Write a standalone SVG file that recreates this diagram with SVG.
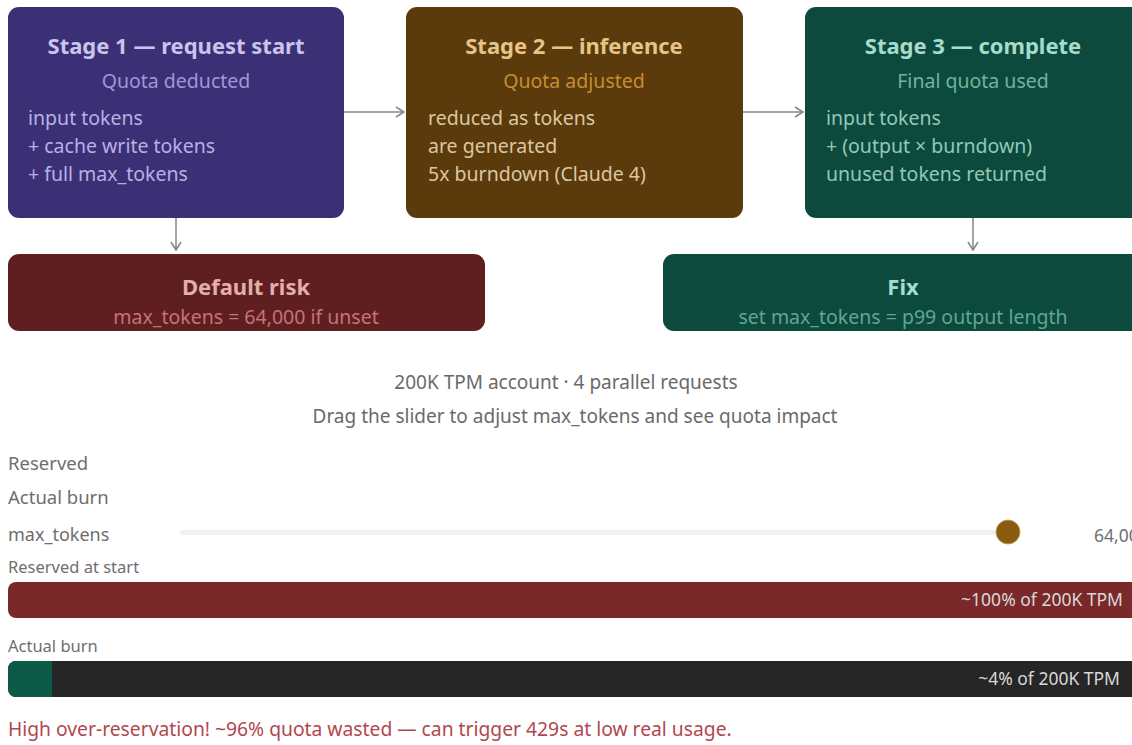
<svg xmlns="http://www.w3.org/2000/svg" width="1132" height="745" viewBox="0 0 1132 745">
  <defs>
    <marker id="arr" viewBox="0 0 12 12" refX="10" refY="6" markerWidth="12" markerHeight="12" markerUnits="userSpaceOnUse" orient="auto">
      <path d="M2,1 L10,6 L2,11" fill="none" stroke="#7d8a8a" stroke-width="1.5"/>
    </marker>
    <clipPath id="page"><rect x="0" y="0" width="1132" height="745"/></clipPath>
  </defs>
  <style>
    text { font-family: "Noto Sans", "Open Sans", sans-serif; }
    .title { font-size: 22px; font-weight: 700; text-anchor: middle; }
    .sub { font-size: 19.5px; text-anchor: middle; }
    .body { font-size: 19.5px; }
    .conn { stroke: #7d8a8a; stroke-width: 1.5; fill: none; }
    .cap { font-size: 19px; fill: #6a6a6a; text-anchor: middle; }
    .lbl { fill: #6e6e6e; }
    .barlbl { font-size: 17.5px; fill: #d8d8d8; text-anchor: end; }
  </style>
  <rect width="1132" height="745" fill="#ffffff"/>

  <g clip-path="url(#page)">
    <!-- pipeline stages -->
    <g id="stage1">
      <rect x="8" y="7" width="336" height="211" rx="11" fill="#3b3076"/>
      <text class="title" x="176" y="54" fill="#c9c4ec">Stage 1 — request start</text>
      <text class="sub" x="176" y="88" fill="#9f97d8">Quota deducted</text>
      <text class="body" x="28" y="125" fill="#b7b0e4">input tokens</text>
      <text class="body" x="28" y="153" fill="#b7b0e4">+ cache write tokens</text>
      <text class="body" x="28" y="181" fill="#b7b0e4">+ full max_tokens</text>
    </g>
    <g id="stage2">
      <rect x="406" y="7" width="337" height="211" rx="11" fill="#5b3a0b"/>
      <text class="title" x="574" y="54" fill="#e6c488">Stage 2 — inference</text>
      <text class="sub" x="574" y="88" fill="#c58f32">Quota adjusted</text>
      <text class="body" x="428" y="125" fill="#dcc7a2">reduced as tokens</text>
      <text class="body" x="428" y="153" fill="#dcc7a2">are generated</text>
      <text class="body" x="428" y="181" fill="#dcc7a2">5x burndown (Claude 4)</text>
    </g>
    <g id="stage3">
      <rect x="805" y="7" width="340" height="211" rx="11" fill="#0c4a3d"/>
      <text class="title" x="973" y="54" fill="#a6dccb">Stage 3 — complete</text>
      <text class="sub" x="973" y="88" fill="#6fb59f">Final quota used</text>
      <text class="body" x="826" y="125" fill="#93c8b8">input tokens</text>
      <text class="body" x="826" y="153" fill="#93c8b8">+ (output × burndown)</text>
      <text class="body" x="826" y="181" fill="#93c8b8">unused tokens returned</text>
    </g>
    <g id="risk">
      <rect x="8" y="254" width="477" height="77" rx="11" fill="#5f1e1f"/>
      <text class="title" x="246" y="295" fill="#e2aeae">Default risk</text>
      <text class="sub" x="246" y="324" fill="#c47478">max_tokens = 64,000 if unset</text>
    </g>
    <g id="fix">
      <rect x="663" y="254" width="480" height="77" rx="11" fill="#0c4a3d"/>
      <text class="title" x="903" y="295" fill="#a6dccb">Fix</text>
      <text class="sub" x="903" y="324" fill="#5fa791">set max_tokens = p99 output length</text>
    </g>

    <!-- connectors -->
    <g id="connectors">
      <line class="conn" x1="344" y1="112" x2="404" y2="112" marker-end="url(#arr)"/>
      <line class="conn" x1="743" y1="112" x2="803" y2="112" marker-end="url(#arr)"/>
      <line class="conn" x1="176" y1="218" x2="176" y2="250" marker-end="url(#arr)"/>
      <line class="conn" x1="973" y1="218" x2="973" y2="250" marker-end="url(#arr)"/>
    </g>

    <!-- quota simulator -->
    <g id="simulator">
      <text class="cap" x="566" y="389">200K TPM account · 4 parallel requests</text>
      <text class="cap" x="575" y="423">Drag the slider to adjust max_tokens and see quota impact</text>

      <text class="lbl" x="8" y="470" font-size="18.5">Reserved</text>
      <text class="lbl" x="8" y="504" font-size="18.5">Actual burn</text>
      <text class="lbl" x="8" y="541" font-size="18">max_tokens</text>

      <rect x="180" y="530" width="830" height="5" rx="2.5" fill="#eff1f3"/>
      <circle cx="1008" cy="532" r="12" fill="#8a5c12" stroke="#c89a4a" stroke-width="1"/>
      <text class="lbl" x="1094" y="542" font-size="17.5" fill="#8a8a8a">64,000</text>

      <text class="lbl" x="8" y="573" font-size="16.5">Reserved at start</text>
      <rect x="8" y="582" width="1136" height="36" rx="8" fill="#7a292a"/>
      <text class="barlbl" x="1123" y="606">~100% of 200K TPM</text>

      <text class="lbl" x="8" y="652" font-size="16.5">Actual burn</text>
      <rect x="8" y="661" width="1136" height="36" rx="8" fill="#262626"/>
      <path d="M16,661 H52 V697 H16 A8,8 0 0 1 8,689 V669 A8,8 0 0 1 16,661 Z" fill="#0c5a47"/>
      <text class="barlbl" x="1120" y="685">~4% of 200K TPM</text>

      <text x="8" y="736" font-size="19.3" fill="#b0484f">High over-reservation! ~96% quota wasted — can trigger 429s at low real usage.</text>
    </g>
  </g>
</svg>
